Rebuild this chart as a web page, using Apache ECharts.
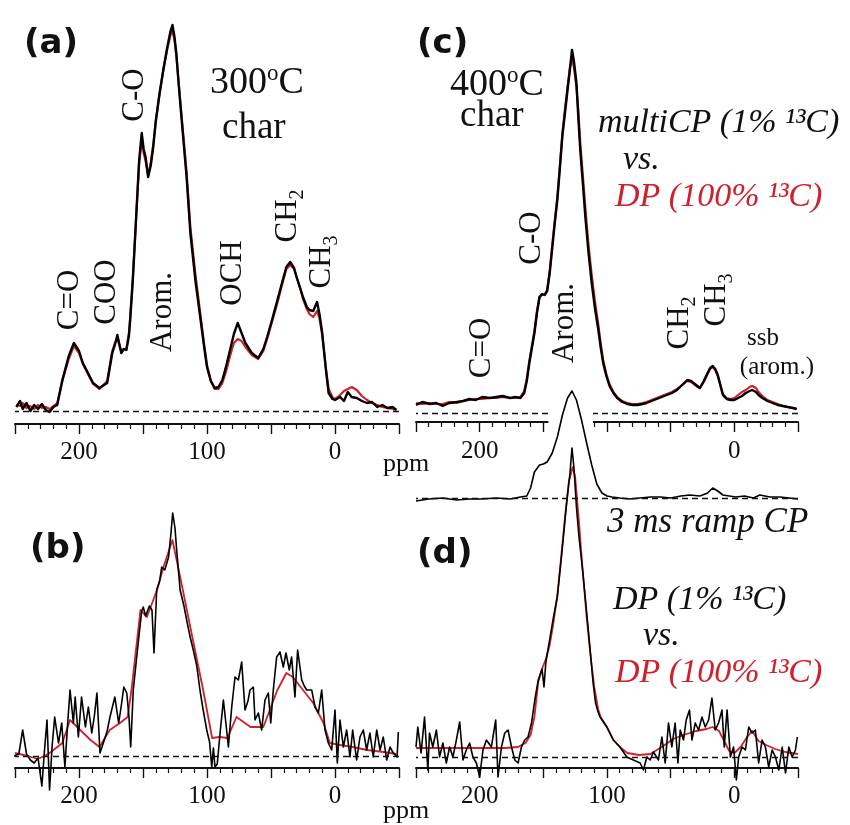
<!DOCTYPE html>
<html>
<head>
<meta charset="utf-8">
<title>13C NMR of chars</title>
<script src="https://cdn.jsdelivr.net/npm/echarts@6.0.0/dist/echarts.min.js"></script>
<style>
  html, body { margin: 0; padding: 0; background: #fff; }
  #chart { width: 850px; height: 825px; }
</style>
</head>
<body>
<div id="chart"></div>
<script>
// chemical shift axis labels (ppm)
const tickLabels = [200, 100, 0]

// (a) 300 C char: multiCP (1% 13C) vs DP (100% 13C)
const aPpm = [249,246,244,241,238,235,232,229,226,223,220,217,213,208,204,200,197,193,189,184,
  178,174,172,170,167,165,163,161,160,158,156,153,151,149.5,148,146,144,142,140,137,
  134,131,128.5,127,125.5,124,122,120,116,113,109,105,102,100,97,94,91,88,85,82,
  79,76,73,70,65,60,56,53,49,45,41,38,35,32,30,27,25,22,20,17,
  14,12,10,7,5,2,0,-4,-7,-10,-13,-17,-21,-25,-29,-33,-37,-41,-45,-48]
const aMulti = [4,10,2,8,0,6,2,7,1,-1,4,6,31,55,68,60,48,38,28,23,
  28,58,66,76,58,62,61,75,91,130,178,251,278,262,254,234,245,264,290,318,
  342,364,380,386,375,358,325,294,235,178,130,91,62,44,30,23,24,31,45,61,
  77,88,78,68,58,53,62,74,92,111,130,144,149,143,134,122,114,104,101,100,
  109,96,78,40,18,12,11,14,10,19,14,13,10,8,9,4,6,3,4,1]
const aDp = [6,5,8,3,5,2,6,3,4,2,5,8,30,52,65,58,47,37,27,22,
  30,60,68,72,60,62,62,78,95,132,178,248,270,258,250,236,248,266,290,318,
  342,362,376,380,372,356,326,298,240,184,136,95,64,46,30,22,22,28,40,55,
  68,72,70,64,56,52,60,72,90,108,128,142,146,142,134,122,112,102,97,94,
  100,92,76,42,22,14,12,16,20,22,24,21,15,11,8,6,4,3,2,1]

// (b) 300 C char: DP (1% 13C) vs DP (100% 13C)
const bPpm = [251,247,244,241,238,235,232,229,227,225,223,221,219,216,213.5,211,209,207,204.4,203,
  200.5,198,195,192.7,190,188,186,183.6,181,178,175.8,172,169,167,165,162.7,161,159.6,157.6,154,
  151,149.8,148,147,145,143,141.4,139.3,137,135.4,133,130,128,126.8,125,123.7,121,118,115.9,113,
  110.7,108,105.5,103,100.2,98,96.3,95,93.8,92,90,87.2,85,83.3,80.7,78.1,75.5,72.9,70.3,68,
  66.4,63.8,62.5,59.9,57.3,54.7,52.1,50.2,48.2,45.6,43,40.4,38.3,35.7,33.9,31.3,29.2,26,24,22.1,
  18.2,15.6,13,10.4,7.8,5.2,2.6,0,-1.8,-3.9,-6.5,-9.1,-11.7,-13.8,-16.9,-19.5,-22.1,-24.7,-27.3,-29.9,
  -32.6,-35.2,-37.7,-40.4,-43,-45.5,-48.5,-49.5]
const bLow = [0,2,26,2,-4,-7,-2,-30,5,36,-34,10,39,13,33,-11,30,66,33,59,
  19,59,29,49,23,40,63,3,13,25,39,59,33,50,69,63,40,9,66,110,
  145,149,140,139,150,146,103,166,175,189,186,199,225,243,228,206,166,150,136,118,
  106,90,66,46,26,14,-11,8,-11,-8,20,56,30,9,49,79,76,94,46,55,
  66,69,36,43,26,56,63,33,66,99,104,89,103,86,99,59,106,76,70,66,
  66,49,43,66,26,13,6,46,-7,36,9,26,-1,26,-4,19,26,6,23,-1,
  26,6,19,-4,9,3,-1,24]
const bRefPpm = [250,240,232,224,218,213,207,199,191,184,176,168,162,159,152,147,139,134,127,120,
  111,103,96,90,84,80,77,66,56,53,45,38,33,25,17,9,4,-4,-14,-25,-38,-48]
const bRef = [3,0,-3,2,8,13,36,26,16,9,26,33,39,66,146,139,166,189,216,173,
  116,66,18,19,18,30,39,29,29,39,66,83,79,66,53,33,13,11,9,6,4,2]

// (c) 400 C char: multiCP (1% 13C) vs DP (100% 13C)
const cPpm = [250,245,239,234,229,224,218,213,208,203,198,192,187,182,176,172,168,165,163,161,
  159,157,155,153,151,149,147,145,143,141,139,137,135,133,131,129,127.5,126,124,122.5,
  121,119,117,114.5,112,109.5,107,105,103,100.5,98,95,92,88,84,80,76,72,69,65,
  61,57,53,49,45,41,37,34,32,29,27,24,21,19,17,15,13,11,9,6,
  3,0,-3,-6,-9,-12,-14,-17,-19,-22,-26,-30,-34,-38,-42,-46,-49]
const cMulti = [8,11,9,10,7,10,11,12,14,13,16,15,16,17,15,16,15,20,32,50,
  65,80,100,116,119,118,122,140,165,190,213,245,278,300,323,345,363,352,330,295,
  263,230,196,160,130,105,85,66,50,37,27,20,15,11,9,8,8,9,10,12,
  14,16,18,20,23,28,33,32,30,27,25,32,40,45,47,44,38,28,18,14,
  13,13,15,17,20,22,23,21,18,15,12,10,8,7,6,5,4]
const cDp = [10,9,10,9,9,11,10,12,13,14,14,15,15,16,15,15,16,22,34,52,
  67,82,102,116,118,118,123,142,168,193,216,248,280,304,326,346,354,346,326,302,
  270,238,205,168,138,112,90,70,53,39,29,21,16,12,10,9,9,10,11,13,
  15,17,19,21,24,28,32,31,29,26,25,31,39,44,46,43,37,28,19,15,
  14,15,18,21,23,26,27,25,21,17,13,11,9,7,6,5,4]

// inset: 3 ms ramp CP of the 400 C char
const rampPpm = [250,240,229,218,208,198,187,176,168,163,160,157,153,150,147,143,139,135,131,127.5,
  124,120,116,112,108,104,100,96,90,82,74,66,58,50,42,35,27,21,17,13,
  9,4,-1,-8,-15,-20,-28,-36,-43,-50]
const rampCp = [-3,-1,0,-2,-1,-1,0,-1,1,2,10,26,33,34,36,45,61,83,100,107,
  98,78,55,33,14,5,2,1,0,-1,0,1,1,0,2,3,2,5,10,7,
  3,2,1,2,0,3,1,1,0,-1]

// (d) 400 C char: DP (1% 13C) vs DP (100% 13C)
const dPpm = [250,248.6,246,243.3,240.7,239.4,236.8,234,231.5,228.9,226.2,223.6,221,218.3,215.7,213.1,210.5,207.9,205.3,202.6,
  200,197.4,194.7,190.8,187.4,185.6,182.9,180.3,177.7,175,172.4,169.8,167.2,164.6,162,159.3,156.7,154,151,149.5,
  148,146,144,142,139,137,135,132,129,127.5,126,124,122,119,116,113,111,109,107,105.5,
  100.2,95,89.8,84.5,79.3,74,71.4,68.7,66.1,63.5,59.6,56.9,54.3,51.7,49.1,46.5,44.3,42.5,39.9,37.8,
  35.2,33.3,30.7,28.1,25.4,22.8,20.2,17.6,15,12.4,9.7,7.9,5.7,3.1,0.6,-1.6,-3.4,-6.1,-8.7,-11.3,
  -13.9,-16.5,-19.1,-21.8,-24.4,-27,-29.7,-32.3,-34.9,-37.6,-40.2,-42.8,-45.4,-48,-49.5]
const dLow = [10,30,4,40,-13,24,10,27,0,14,-6,10,0,17,35,-3,7,14,0,-6,
  -20,7,17,10,37,-20,10,24,27,10,-3,-6,10,17,20,34,57,77,88,70,
  95,110,125,140,160,185,210,250,285,309,290,250,220,185,145,104,75,54,45,40,
  30,17,10,0,-3,-6,-13,0,-3,5,-3,20,-6,34,10,34,-6,27,17,37,
  47,17,34,27,40,30,37,59,27,34,47,10,47,0,10,-23,0,10,7,30,
  24,27,-6,17,10,-10,7,0,-13,10,-16,10,0,7,20]
const dRefPpm = [250,240,220,200,180,170,164,160,157,154,151,148,145,142,139,136,133,130,127,125,
  122,119,116,113,110,107,105,100,95,90,84,75,66,57,48,40,30,22,17,12,
  8,4,0,-5,-10,-14,-19,-25,-32,-40,-50]
const dRef = [9,9,9,9,9,10,14,22,40,75,88,98,112,135,162,200,240,275,290,280,
  235,185,140,102,70,48,40,30,17,10,4,2,3,10,18,22,26,28,30,26,
  16,6,4,10,20,26,16,12,8,5,3]

const INK = '#111'
const RED = '#d0202c'
const SERIF = '"Liberation Serif", "Times New Roman", serif'

const zip = (xs, ys) => xs.map((x, i) => [x, ys[i]])

function ppmAxis(gridIndex, offset, margin, opts = {}) {
  const shown = opts.labels || tickLabels
  return {
    type: 'value', gridIndex, inverse: true,
    min: -50, max: 250, interval: 50,
    show: opts.show !== false, offset, z: 0,
    axisLine: { onZero: false, lineStyle: { color: INK, width: 2 } },
    axisTick: { length: 10, lineStyle: { color: INK, width: 1.4 } },
    minorTick: { show: true, splitNumber: 5, length: 5, lineStyle: { color: INK, width: 1.2 } },
    splitLine: { show: false },
    minorSplitLine: { show: false },
    axisLabel: {
      margin, color: INK, fontFamily: SERIF, fontSize: 25,
      formatter: v => (shown.includes(v) ? String(v) : ''),
    },
  }
}

function intensityAxis(gridIndex, min, max) {
  return { type: 'value', gridIndex, min, max, show: false, splitLine: { show: false } }
}

function trace(idx, xs, ys, color, width, z, extra) {
  return Object.assign({
    type: 'line', xAxisIndex: idx, yAxisIndex: idx,
    data: zip(xs, ys),
    symbol: 'none', showSymbol: false, clip: false, silent: true, z,
    lineStyle: { color, width, join: 'round' },
    itemStyle: { color },
    emphasis: { disabled: true },
  }, extra)
}

// dashed zero line of each spectrum
const zeroLine = (z = 5) => ({
  z, silent: true, symbol: ['none', 'none'], label: { show: false },
  lineStyle: { color: INK, type: [6, 4], width: 1.4 },
  data: [{ yAxis: 0 }],
})

// text helpers
function label(text, x, y, o = {}) {
  return {
    type: 'text', x, y, z: 100, silent: true,
    rotation: o.rot ? Math.PI / 2 : 0,
    style: {
      text, x: 0, y: 0,
      fontFamily: o.family || SERIF,
      fontSize: o.size || 31,
      fontStyle: o.italic ? 'italic' : 'normal',
      fontWeight: o.bold ? 'bold' : 'normal',
      fill: o.color || INK,
      align: o.align || 'center',
      verticalAlign: 'middle',
      rich: o.rich,
    },
  }
}
// rotated group name with a subscript digit (CH2, CH3)
function subLabel(base, sub, x, y) {
  return label(`{m|${base}}{s|${sub}}`, x, y, {
    rot: true,
    rich: {
      m: { fontFamily: SERIF, fontSize: 31, lineHeight: 40, fill: INK },
      s: { fontFamily: SERIF, fontSize: 20, lineHeight: 20, verticalAlign: 'bottom', fill: INK },
    },
  })
}
// temperature with a raised small "o"
function tempLabel(t, x, y) {
  return label(`{n|${t}}{o|o}{n|C}`, x, y, {
    align: 'left',
    rich: {
      n: { fontFamily: SERIF, fontSize: 38, lineHeight: 42, fill: INK },
      o: { fontFamily: SERIF, fontSize: 23, lineHeight: 20, verticalAlign: 'top', fill: INK },
    },
  })
}
const panel = (t, x, y) => label(t, x, y, { family: '"DejaVu Sans", sans-serif', size: 34, bold: true, align: 'left' })

const chart = echarts.init(document.getElementById('chart'), null, { renderer: 'canvas' })

chart.setOption({
  animation: false,
  backgroundColor: '#fff',
  grid: [
    { left: 15, top: 10, width: 384, height: 401, outerBoundsMode: 'none' },   // a
    { left: 15, top: 470, width: 384, height: 286, outerBoundsMode: 'none' },  // b
    { left: 416, top: 10, width: 382, height: 430, outerBoundsMode: 'none' },  // c
    { left: 416, top: 430, width: 382, height: 327, outerBoundsMode: 'none' }, // d
    { left: 416, top: 380, width: 382, height: 118, outerBoundsMode: 'none' }, // inset
  ],
  xAxis: [
    ppmAxis(0, 13, 16),
    ppmAxis(1, 12, 16),
    ppmAxis(2, -18, 17, { labels: [200, 0] }),
    ppmAxis(3, 11, 16),
    ppmAxis(4, 0, 0, { show: false }),
  ],
  yAxis: [
    intensityAxis(0, 0, 401),
    intensityAxis(1, 0, 286),
    intensityAxis(2, -27, 403),
    intensityAxis(3, 0, 327),
    intensityAxis(4, 0, 118),
  ],
  series: [
    trace(0, aPpm, aDp, RED, 2.2, 1, { markLine: zeroLine() }),
    trace(0, aPpm, aMulti, '#000', 2.4, 2),
    trace(1, bRefPpm, bRef, RED, 1.8, 1, { markLine: zeroLine() }),
    trace(1, bPpm, bLow, '#000', 1.6, 2),
    trace(2, cPpm, cDp, RED, 2.2, 1, { markLine: zeroLine(1) }),
    trace(2, cPpm, cMulti, '#000', 2.4, 2, {
      // white patch where the inset spectrum cuts through the axis
      markArea: {
        z: 3, silent: true, label: { show: false },
        itemStyle: { color: '#fff', opacity: 1, borderWidth: 0 },
        data: [[{ xAxis: 146, yAxis: 8 }, { xAxis: 111, yAxis: -24 }]],
      },
    }),
    trace(3, dRefPpm, dRef, RED, 1.8, 1, { markLine: zeroLine() }),
    trace(3, dPpm, dLow, '#000', 1.6, 2),
    trace(4, rampPpm, rampCp, '#000', 1.6, 4, { markLine: zeroLine(5) }),
  ],
  graphic: {
    elements: [
      panel('(a)', 24, 44),
      panel('(b)', 30, 549),
      panel('(c)', 417, 44),
      panel('(d)', 417, 554),

      // (a) assignments
      label('C=O', 70, 300, { rot: true }),
      label('COO', 107, 292, { rot: true }),
      label('C-O', 135, 95, { rot: true }),
      label('Arom.', 163, 312, { rot: true }),
      label('OCH', 233, 273, { rot: true }),
      subLabel('CH', 2, 288, 216),
      subLabel('CH', 3, 322, 262),
      tempLabel('300', 210, 83),
      label('char', 222, 128, { size: 37, align: 'left' }),

      // (c) assignments
      label('C=O', 482, 348, { rot: true }),
      label('C-O', 532, 238, { rot: true }),
      label('Arom.', 565, 323, { rot: true }),
      subLabel('CH', 2, 680, 323),
      subLabel('CH', 3, 717, 300),
      label('ssb', 763, 338, { size: 25 }),
      label('(arom.)', 777, 367, { size: 25 }),
      tempLabel('400', 450, 85),
      label('char', 460, 116, { size: 37, align: 'left' }),

      label('multiCP (1% ¹³C)', 598, 123, { size: 34, italic: true, align: 'left' }),
      label('vs.', 623, 160, { size: 34, italic: true, align: 'left' }),
      label('DP (100% ¹³C)', 615, 197, { size: 34, italic: true, align: 'left', color: RED }),

      label('3 ms ramp CP', 607, 523, { size: 35, italic: true, align: 'left' }),

      label('DP (1% ¹³C)', 613, 600, { size: 34, italic: true, align: 'left' }),
      label('vs.', 643, 636, { size: 34, italic: true, align: 'left' }),
      label('DP (100% ¹³C)', 615, 673, { size: 34, italic: true, align: 'left', color: RED }),

      label('ppm', 383, 464, { size: 26, align: 'left' }),
      label('ppm', 383, 811, { size: 26, align: 'left' }),
    ],
  },
})

window.addEventListener('resize', () => chart.resize())
</script>
</body>
</html>
